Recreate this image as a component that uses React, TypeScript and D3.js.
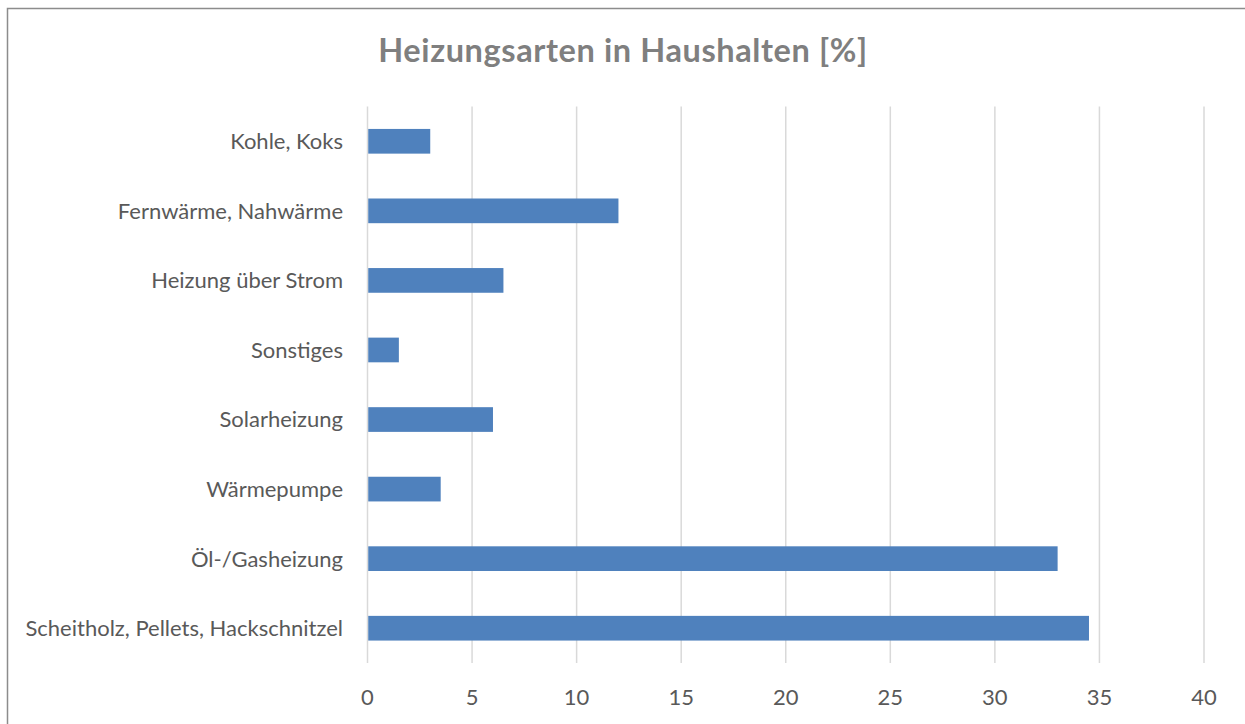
import React from 'react'
import * as d3 from 'd3'

const categories = [
  'Kohle, Koks',
  'Fernwärme, Nahwärme',
  'Heizung über Strom',
  'Sonstiges',
  'Solarheizung',
  'Wärmepumpe',
  'Öl-/Gasheizung',
  'Scheitholz, Pellets, Hackschnitzel'
]
const values = [3, 12, 6.5, 1.5, 6, 3.5, 33, 34.5]
const xTicks = [0, 5, 10, 15, 20, 25, 30, 35, 40]
const title = 'Heizungsarten in Haushalten [%]'

const width = 1245
const height = 724
const font = 'Lato, sans-serif'

export default function App() {
  const x = d3.scaleLinear().domain([0, 40]).range([367.5, 1204])
  const y = d3.scaleBand<string>()
    .domain(categories)
    .range([106.5, 663])
    .paddingInner(0.645)
    .paddingOuter(0.3225)

  const [y0, y1] = y.range()

  return (
    <svg
      width={width}
      height={height}
      style={{ position: 'absolute', left: 0, top: 0, background: '#fff' }}
    >
      {/* outer frame, cut off at right and bottom */}
      <rect x={7.5} y={8.5} width={width + 20} height={height + 20} fill="#fff" stroke="#8c8c8c" strokeWidth={1.5} />

      <text
        x={623}
        y={62}
        textAnchor="middle"
        fontFamily={font}
        fontWeight="bold"
        fontSize={32.5}
        letterSpacing={0.6}
        fill="#7f7f7f"
      >
        {title}
      </text>

      {/* gridlines */}
      {xTicks.map(t => (
        <line key={t} x1={x(t)} x2={x(t)} y1={y0} y2={y1} stroke="#d9d9d9" strokeWidth={1.5} />
      ))}

      {/* bars */}
      {categories.map((c, i) => (
        <rect
          key={c}
          x={x(0) + 0.75}
          y={y(c)}
          width={x(values[i]) - x(0) - 0.75}
          height={y.bandwidth()}
          fill="#4f81bd"
        />
      ))}

      {/* category labels */}
      {categories.map(c => (
        <text
          key={c}
          x={343}
          y={(y(c) ?? 0) + y.bandwidth() / 2}
          dy="0.36em"
          textAnchor="end"
          fontFamily={font}
          fontSize={22}
          fill="#595959"
        >
          {c}
        </text>
      ))}

      {/* x tick labels */}
      {xTicks.map(t => (
        <text
          key={t}
          x={x(t)}
          y={705}
          textAnchor="middle"
          fontFamily={font}
          fontSize={22}
          fill="#595959"
        >
          {t}
        </text>
      ))}
    </svg>
  )
}
